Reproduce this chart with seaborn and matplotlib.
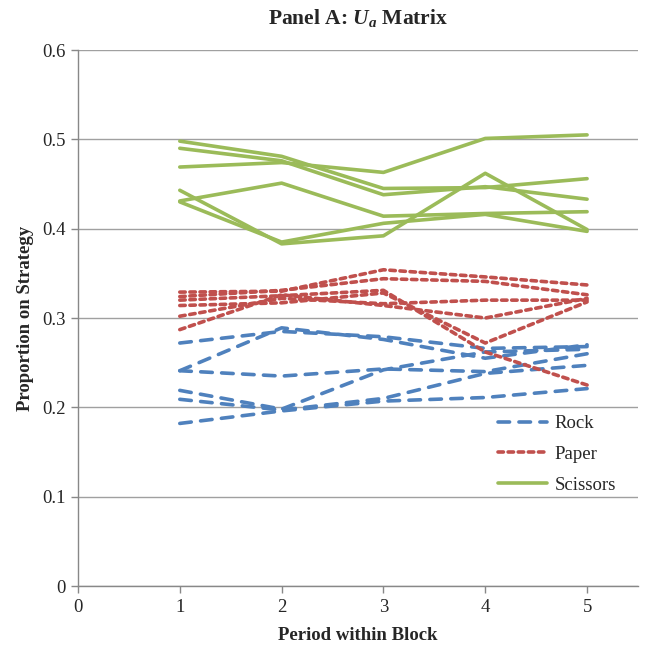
import matplotlib
matplotlib.use("Agg")
import matplotlib.pyplot as plt
import seaborn as sns
import pandas as pd

periods = [1, 2, 3, 4, 5]
strategies = ["Rock", "Paper", "Scissors"]

rock_lines = [
    [0.272, 0.285, 0.279, 0.266, 0.268],
    [0.241, 0.289, 0.276, 0.255, 0.270],
    [0.241, 0.235, 0.243, 0.240, 0.260],
    [0.219, 0.198, 0.242, 0.262, 0.265],
    [0.209, 0.197, 0.210, 0.238, 0.247],
    [0.182, 0.196, 0.207, 0.211, 0.221],
]
paper_lines = [
    [0.329, 0.330, 0.354, 0.346, 0.337],
    [0.324, 0.331, 0.344, 0.341, 0.326],
    [0.320, 0.325, 0.331, 0.262, 0.225],
    [0.314, 0.317, 0.328, 0.272, 0.318],
    [0.302, 0.322, 0.316, 0.320, 0.320],
    [0.287, 0.326, 0.314, 0.300, 0.322],
]
scissors_lines = [
    [0.469, 0.474, 0.463, 0.501, 0.505],
    [0.498, 0.481, 0.445, 0.446, 0.456],
    [0.490, 0.476, 0.438, 0.447, 0.433],
    [0.443, 0.383, 0.392, 0.462, 0.399],
    [0.431, 0.451, 0.414, 0.417, 0.419],
    [0.430, 0.385, 0.406, 0.416, 0.397],
]

rows = []
for strat, lines in zip(strategies, [rock_lines, paper_lines, scissors_lines]):
    for i, vals in enumerate(lines):
        for p, v in zip(periods, vals):
            rows.append({"strategy": strat, "session": f"{strat}{i}", "period": p, "value": v})
df = pd.DataFrame(rows)

sns.set_theme(style="white")
plt.rcParams["font.family"] = ["Liberation Serif", "DejaVu Serif"]
plt.rcParams["mathtext.fontset"] = "custom"
plt.rcParams["mathtext.it"] = "Liberation Serif:italic:bold"
plt.rcParams["mathtext.rm"] = "Liberation Serif:bold"

fig = plt.figure(figsize=(6.46, 6.52), dpi=100)
ax = fig.add_axes([0.1207, 0.1012, 0.8669, 0.8221])

palette = {"Rock": "#4F81BD", "Paper": "#C0504D", "Scissors": "#9BBB59"}
dashes = {"Rock": (3.2, 2.6), "Paper": (1.5, 1.3), "Scissors": ""}

sns.lineplot(data=df, x="period", y="value", hue="strategy", style="strategy",
             units="session", estimator=None, palette=palette, dashes=dashes,
             hue_order=strategies, style_order=strategies,
             linewidth=2.6, ax=ax, legend=True)

for line in ax.get_lines():
    line.set_dash_capstyle("round")

ax.set_xlim(0, 5.5)
ax.set_ylim(0, 0.6)
ax.set_xticks([0, 1, 2, 3, 4, 5])
ax.set_yticks([0, 0.1, 0.2, 0.3, 0.4, 0.5, 0.6])
ax.set_yticklabels(["0", "0.1", "0.2", "0.3", "0.4", "0.5", "0.6"])
ax.yaxis.grid(True, color="#a0a0a0", linewidth=1)
ax.xaxis.grid(False)
for s in ["top", "right"]:
    ax.spines[s].set_visible(False)
for s in ["left", "bottom"]:
    ax.spines[s].set_color("#888888")
    ax.spines[s].set_linewidth(1)
ax.tick_params(axis="both", which="both", direction="out", length=5, width=1,
               color="#888888", labelsize=13.5, left=True, bottom=True, pad=4)

ax.set_xlabel("Period within Block", fontsize=13.5, fontweight="bold", labelpad=8)
ax.set_ylabel("Proportion on Strategy", fontsize=13.5, fontweight="bold", labelpad=6)
ax.set_title(r"Panel A: $U_a$ Matrix", fontsize=15.5, fontweight="bold", pad=19)

handles, labels = ax.get_legend_handles_labels()
hl = [(h, l) for h, l in zip(handles, labels) if l in strategies]
leg = ax.legend([h for h, _ in hl], [l for _, l in hl], loc="upper left",
                bbox_to_anchor=(0.72, 0.35), frameon=False, fontsize=13.5,
                handlelength=2.6, handletextpad=0.4, labelspacing=0.72)
for h in leg.get_lines():
    h.set_linewidth(2.6)

fig.savefig("out.png", dpi=100)
